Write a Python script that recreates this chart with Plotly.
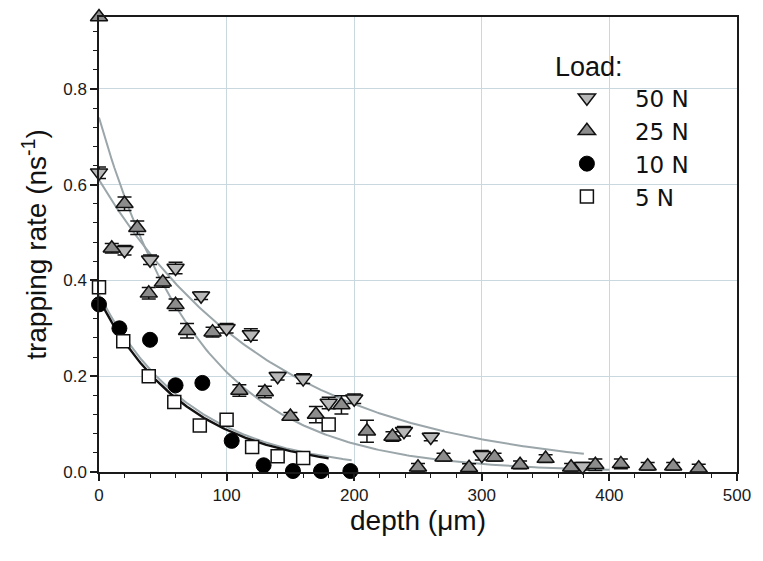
import numpy as np
import plotly.graph_objects as go

# Depth (µm) and trapping rate (ns^-1) per load
depth_50 = [0, 20, 40, 60, 80, 100, 119, 140, 160, 180, 200, 239, 260, 300, 379]
rate_50 = [0.625, 0.463, 0.443, 0.426, 0.368, 0.300, 0.287, 0.200, 0.195, 0.144, 0.153, 0.085, 0.073, 0.035, 0.012]
err_50 = [0.012, 0.010, 0.010, 0.012, 0.008, 0.010, 0.012, 0.008, 0.010, 0.012, 0.010, 0.010, 0.008, 0.010, 0.008]

depth_25 = [0, 10, 20, 30, 39, 50, 60, 69, 89, 110, 130, 150, 170, 190, 210, 230, 250,
            270, 290, 310, 330, 350, 370, 389, 409, 430, 450, 470]
rate_25 = [0.950, 0.467, 0.560, 0.510, 0.373, 0.396, 0.349, 0.295, 0.292, 0.170, 0.167, 0.116,
           0.120, 0.140, 0.085, 0.074, 0.010, 0.031, 0.009, 0.031, 0.015, 0.028, 0.010, 0.015,
           0.017, 0.012, 0.012, 0.008]
err_25 = [0.0, 0.010, 0.014, 0.014, 0.012, 0.010, 0.012, 0.015, 0.010, 0.012, 0.012, 0.008,
          0.017, 0.019, 0.023, 0.010, 0.008, 0.008, 0.008, 0.008, 0.008, 0.008, 0.008, 0.012,
          0.010, 0.008, 0.008, 0.008]

depth_10 = [0, 16, 40, 60, 81, 104, 129, 152, 174, 197]
rate_10 = [0.350, 0.300, 0.276, 0.181, 0.186, 0.065, 0.014, 0.002, 0.002, 0.002]

depth_5 = [0, 19, 39, 59, 79, 100, 120, 140, 160, 180]
rate_5 = [0.386, 0.273, 0.200, 0.146, 0.097, 0.109, 0.052, 0.033, 0.029, 0.099]

# Exponential fits: amplitude, decay length (µm), end of fitted range (µm)
fit_50 = (0.61, 137.0, 380.0)
fit_25 = (0.74, 79.0, 400.0)
fit_10 = (0.36, 71.0, 180.0)
fit_5 = (0.37, 73.0, 198.0)

FIT_GRAY = "#9ba6aa"
FONT = "Liberation Sans, Arial, sans-serif"
LEGEND_FONT = "DejaVu Sans, Liberation Sans, sans-serif"

fig = go.Figure()


def fit_curve(params, color, width):
    a, t, xmax = params
    xs = np.linspace(0, xmax, 200)
    fig.add_trace(go.Scatter(x=xs, y=a * np.exp(-xs / t), mode="lines",
                             line=dict(color=color, width=width),
                             showlegend=False, hoverinfo="skip"))


fit_curve(fit_50, FIT_GRAY, 2)
fit_curve(fit_25, FIT_GRAY, 2)
fit_curve(fit_5, FIT_GRAY, 2)
fit_curve(fit_10, "#111111", 2.4)


def err_trace(xs, ys, es):
    fig.add_trace(go.Scatter(x=xs, y=ys, mode="markers",
                             marker=dict(size=1, opacity=0),
                             error_y=dict(type="data", array=es, color="#111111",
                                          thickness=1.5, width=7),
                             showlegend=False, hoverinfo="skip", cliponaxis=False))


err_trace(depth_50, rate_50, err_50)
err_trace(depth_25, rate_25, err_25)

fig.add_trace(go.Scatter(x=depth_50, y=rate_50, mode="markers", name="50 N",
                         marker=dict(symbol="triangle-down", size=15, color="#b8b8b8",
                                     line=dict(color="#111111", width=1.5)),
                         cliponaxis=False))
fig.add_trace(go.Scatter(x=depth_25, y=rate_25, mode="markers", name="25 N",
                         marker=dict(symbol="triangle-up", size=15, color="#8c8c8c",
                                     line=dict(color="#111111", width=1.5)),
                         cliponaxis=False))
fig.add_trace(go.Scatter(x=depth_10, y=rate_10, mode="markers", name="10 N",
                         marker=dict(symbol="circle", size=15, color="#000000",
                                     line=dict(color="#000000", width=1)),
                         cliponaxis=False))
fig.add_trace(go.Scatter(x=depth_5, y=rate_5, mode="markers", name="5 N",
                         marker=dict(symbol="square", size=13, color="#ffffff",
                                     line=dict(color="#111111", width=1.5)),
                         cliponaxis=False))

axis_common = dict(
    showline=True, linecolor="#1a1a1a", linewidth=1.5, mirror=True,
    ticks="outside", ticklen=7, tickwidth=1.5, tickcolor="#1a1a1a",
    showgrid=True, gridcolor="#c9d7de", gridwidth=1, zeroline=False,
    tickfont=dict(family=FONT, size=17, color="#1a1a1a"),
)

fig.update_layout(
    width=763, height=561,
    margin=dict(l=99, r=16, t=17, b=89),
    paper_bgcolor="white", plot_bgcolor="white",
    font=dict(family=FONT, color="#111111"),
    xaxis=dict(range=[0, 500], dtick=100, tick0=0,
               minor=dict(dtick=20, ticks="outside", ticklen=4, tickwidth=1.2, tickcolor="#1a1a1a",
                          showgrid=False),
               title=dict(text="depth (μm)", font=dict(family=FONT, size=28), standoff=6),
               **axis_common),
    yaxis=dict(range=[0, 0.95], dtick=0.2, tick0=0, tickformat=".1f",
               minor=dict(dtick=0.04, ticks="outside", ticklen=4, tickwidth=1.2, tickcolor="#1a1a1a",
                          showgrid=False),
               title=dict(text="trapping rate (ns<sup>-1</sup>)", font=dict(family=FONT, size=28),
                          standoff=8),
               **axis_common),
    legend=dict(x=0.6895, y=0.8695, xanchor="left", yanchor="top",
                bgcolor="rgba(0,0,0,0)", borderwidth=0,
                font=dict(family=LEGEND_FONT, size=23, color="#111111"),
                itemwidth=86, tracegroupgap=0),
    annotations=[dict(text="Load:", xref="paper", yref="paper", x=0.711, y=0.8895,
                      xanchor="left", yanchor="middle", showarrow=False,
                      font=dict(family=FONT, size=27, color="#111111"))],
)

fig.write_html("out.html")
